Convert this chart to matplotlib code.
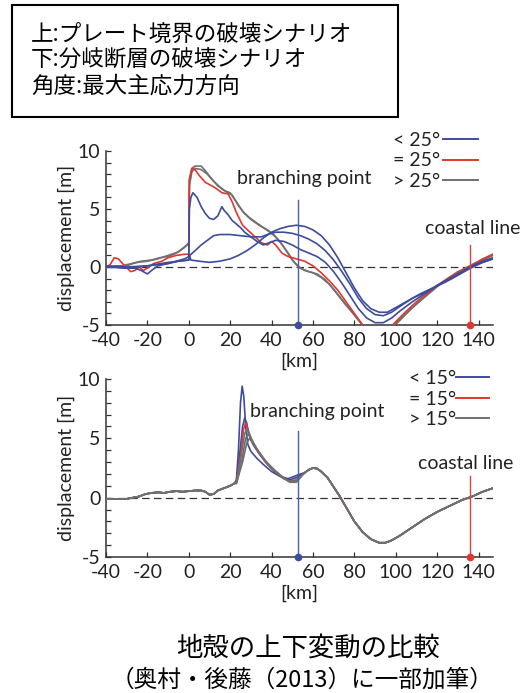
# plot.py
# Vertical crustal displacement: plate-boundary vs. branch-fault rupture scenarios.

import matplotlib
matplotlib.use('Agg')
import matplotlib.pyplot as plt
from matplotlib.lines import Line2D
from matplotlib.patches import Rectangle
from matplotlib.ticker import MultipleLocator

plt.rcParams['font.family'] = ['Lato', 'Noto Sans CJK JP', 'DejaVu Sans']
plt.rcParams['axes.unicode_minus'] = False

BLUE = '#3d4c9c'
RED = '#e2372c'
GRAY = '#707070'
JP = ['Noto Sans CJK JP', 'DejaVu Sans']

# ── DATA ─────────────────────────────────────────────────────────────────────
BOX_LINES = ['上:プレート境界の破壊シナリオ', '下:分岐断層の破壊シナリオ', '角度:最大主応力方向']
CAPTION = ['地殻の上下変動の比較', '（奥村・後藤（2013）に一部加筆）']

X_TICKS = [-40, -20, 0, 20, 40, 60, 80, 100, 120, 140]
Y_TICKS = [-5, 0, 5, 10]
BRANCH_KM = 53
COAST_KM = 136

TOP_LABELS = ['< 25°', '= 25°', '> 25°']
BOTTOM_LABELS = ['< 15°', '= 15°', '> 15°']

# upper panel: plate-boundary rupture, (km, m)
TOP_GRAY_A = [(-40, 0.0), (-35, 0.1), (-30, 0.1), (-27, 0.3), (-23, 0.5), (-18, 0.6), (-14, 0.8),
              (-10, 0.9), (-6, 1.2), (-3, 1.6), (-1, 1.9), (0, 2.1), (0.3, 7.6), (1.5, 8.5), (3, 8.7),
              (6, 8.7), (8, 8.3), (11, 7.6), (14, 7.0), (17, 6.6), (20, 6.4), (23, 5.6), (26, 4.8),
              (29, 4.3), (32, 3.9), (36, 3.4), (40, 2.9), (43, 2.4), (46, 1.7), (50, 0.6), (53, 0.0),
              (56, -0.3), (60, -0.5), (64, -0.9), (68, -1.5), (72, -2.4), (76, -3.3), (80, -4.1),
              (84, -5.0), (88, -5.7), (92, -6.0), (96, -5.6), (99, -5.0), (104, -4.2), (110, -3.2),
              (115, -2.4), (120, -1.6), (125, -1.0), (130, -0.4), (136, 0.1), (142, 0.6), (147, 1.1)]
TOP_GRAY_B = [(-40, 0.0), (-35, 0.0), (-30, 0.2), (-25, 0.4), (-20, 0.5), (-15, 0.7), (-10, 1.0),
              (-5, 1.3), (-2, 1.7), (0, 2.0), (0.3, 7.0), (1.5, 8.2), (3, 8.5), (6, 8.4), (9, 8.0),
              (12, 7.4), (15, 6.9), (18, 6.5), (21, 6.2), (24, 5.3), (27, 4.6), (30, 4.1), (34, 3.6),
              (38, 3.2), (41, 2.8), (44, 2.2), (48, 1.2), (51, 0.4), (54, -0.1), (58, -0.4), (62, -0.6),
              (66, -1.1), (70, -1.9), (74, -2.8), (78, -3.7), (82, -4.6), (86, -5.4), (90, -5.9),
              (94, -5.9), (98, -5.3), (102, -4.6), (108, -3.5), (114, -2.6), (120, -1.7), (126, -0.9),
              (132, -0.3), (137, 0.2), (142, 0.6), (147, 1.0)]
TOP_RED = [(-40, 0.0), (-38, 0.2), (-36, 0.8), (-34, 0.7), (-31, 0.1), (-28, -0.4), (-26, -0.3),
           (-24, 0.0), (-22, -0.3), (-20, -0.1), (-17, 0.3), (-13, 0.5), (-10, 0.8), (-6, 1.0),
           (-2, 1.1), (0, 1.1), (0.3, 7.5), (1.5, 8.5), (3, 8.4), (5, 7.9), (8, 7.3), (10, 7.1),
           (13, 6.8), (16, 6.4), (19, 6.3), (21, 5.6), (23, 4.7), (26, 3.6), (29, 3.1), (32, 2.6),
           (35, 2.1), (38, 1.9), (40, 2.2), (42, 1.9), (45, 1.2), (48, 0.9), (52, 0.7), (56, 0.5),
           (60, 0.1), (64, -0.5), (68, -1.2), (72, -2.0), (76, -3.0), (80, -4.0), (84, -5.0),
           (88, -5.7), (92, -6.0), (96, -5.6), (99, -4.9), (104, -4.0), (110, -3.0), (115, -2.3),
           (120, -1.6), (126, -0.9), (132, -0.3), (137, 0.2), (142, 0.7), (147, 1.1)]
TOP_BLUE_1 = [(-40, 0.0), (-35, 0.0), (-30, -0.1), (-26, -0.1), (-23, -0.3), (-20, -0.6), (-18, -0.3),
              (-15, 0.1), (-10, 0.3), (-6, 0.5), (-2, 0.7), (0, 0.9), (0.3, 5.0), (1, 6.0), (2, 6.4),
              (4, 6.0), (6, 5.2), (8, 4.6), (10, 4.2), (12, 4.1), (14, 4.4), (16, 5.2), (17, 4.9),
              (19, 4.5), (21, 4.0), (23, 3.7), (25, 3.4), (27, 3.0), (30, 2.6), (33, 2.2), (36, 1.9),
              (39, 2.1), (42, 2.3), (46, 2.2), (50, 1.9), (54, 1.5), (58, 1.2), (62, 0.9), (66, 0.4),
              (70, -0.4), (74, -1.4), (78, -2.5), (82, -3.6), (86, -4.4), (90, -4.8), (94, -4.8),
              (98, -4.4), (102, -3.8), (108, -3.0), (114, -2.3), (120, -1.6), (126, -1.0), (132, -0.4),
              (137, 0.1), (142, 0.5), (147, 0.8)]
TOP_BLUE_2 = [(-40, 0.1), (-30, 0.0), (-20, 0.1), (-10, 0.3), (-5, 0.5), (0, 0.6), (0.5, 1.0), (3, 1.4),
              (6, 1.9), (9, 2.3), (12, 2.7), (15, 2.8), (20, 2.8), (25, 2.7), (30, 2.6), (35, 2.6),
              (38, 2.8), (42, 3.0), (46, 3.0), (50, 2.9), (54, 2.7), (58, 2.4), (62, 2.0), (66, 1.4),
              (70, 0.6), (74, -0.4), (78, -1.5), (82, -2.7), (86, -3.6), (90, -4.1), (94, -4.2),
              (98, -3.9), (102, -3.4), (108, -2.7), (114, -2.2), (120, -1.6), (126, -1.1), (132, -0.5),
              (137, 0.0), (142, 0.4), (147, 0.7)]
TOP_BLUE_3 = [(-40, 0.0), (-30, -0.1), (-20, 0.1), (-10, 0.4), (-5, 0.5), (0, 0.6), (0.3, 1.0), (1, 0.6),
              (5, 0.5), (10, 0.4), (15, 0.5), (20, 0.7), (24, 1.0), (28, 1.4), (32, 1.9), (36, 2.5),
              (40, 3.0), (44, 3.3), (48, 3.5), (52, 3.6), (56, 3.5), (60, 3.2), (64, 2.7), (68, 1.9),
              (72, 0.8), (76, -0.5), (80, -1.8), (84, -2.9), (88, -3.6), (92, -3.9), (96, -3.9),
              (100, -3.5), (106, -2.9), (112, -2.3), (118, -1.8), (124, -1.3), (130, -0.7), (136, -0.1),
              (142, 0.4), (147, 0.7)]

# lower panel: branch-fault rupture; curves share both flanks, differ around the peak
BOT_LEFT = [(-40, -0.1), (-35, -0.1), (-30, -0.1), (-27, 0.0), (-24, 0.1), (-21, 0.3), (-18, 0.4),
            (-15, 0.45), (-12, 0.4), (-9, 0.5), (-6, 0.55), (-3, 0.5), (0, 0.55), (3, 0.6), (6, 0.6),
            (8, 0.5), (10, 0.25), (12, 0.3), (14, 0.6), (17, 0.8), (20, 1.0), (22, 1.2)]
BOT_RIGHT = [(56, 2.1), (58, 2.35), (60, 2.5), (62, 2.45), (64, 2.2), (67, 1.7), (70, 0.9), (73, 0.1),
             (76, -0.8), (80, -2.0), (84, -2.9), (88, -3.5), (92, -3.8), (95, -3.8), (98, -3.6),
             (102, -3.2), (108, -2.5), (114, -1.8), (120, -1.2), (126, -0.7), (132, -0.2), (137, 0.1),
             (142, 0.5), (147, 0.8)]
BOT_BLUE_1 = [(23, 1.5), (24, 4.0), (25, 8.0), (25.8, 9.4), (26.6, 8.5), (27.5, 6.0), (28.5, 4.5),
              (30, 3.9), (33, 3.3), (36, 2.8), (40, 2.2), (44, 1.8), (48, 1.6), (51, 1.8), (54, 2.0)]
BOT_BLUE_2 = [(23, 1.4), (24.5, 3.5), (26, 6.0), (27, 6.7), (28, 6.3), (29, 5.3), (31, 4.5), (34, 3.7),
              (38, 2.8), (42, 2.1), (46, 1.6), (49, 1.5), (52, 1.7), (54, 1.9)]
BOT_RED = [(23, 1.3), (25, 3.5), (26.5, 5.8), (27.5, 6.3), (28.5, 5.8), (30, 4.9), (33, 4.0), (37, 3.0),
           (41, 2.3), (45, 1.7), (49, 1.4), (52, 1.5), (54, 1.8)]
BOT_GRAY_1 = [(23, 1.3), (25, 3.2), (27, 5.4), (28.2, 5.8), (29.5, 5.3), (32, 4.3), (36, 3.3), (40, 2.5),
              (44, 1.9), (48, 1.4), (51, 1.4), (54, 1.8)]
BOT_GRAY_2 = [(23, 1.2), (25.5, 3.0), (27.5, 5.0), (28.8, 5.4), (30, 5.0), (33, 4.1), (37, 3.1), (41, 2.4),
              (45, 1.8), (49, 1.3), (52, 1.3), (54, 1.7)]
BOT_GRAY_3 = [(23, 1.2), (26, 3.0), (28, 4.6), (29.3, 5.0), (31, 4.6), (34, 3.8), (38, 2.9), (42, 2.2),
              (46, 1.6), (49, 1.3), (52, 1.4), (54, 1.8)]

TOP_CURVES = [(TOP_GRAY_A, GRAY), (TOP_GRAY_B, GRAY), (TOP_RED, RED),
              (TOP_BLUE_1, BLUE), (TOP_BLUE_2, BLUE), (TOP_BLUE_3, BLUE)]
BOT_CURVES = [(BOT_BLUE_1, BLUE), (BOT_BLUE_2, BLUE), (BOT_RED, RED),
              (BOT_GRAY_1, GRAY), (BOT_GRAY_2, GRAY), (BOT_GRAY_3, GRAY)]


# ── HELPERS ──────────────────────────────────────────────────────────────────
def style_axes(ax):
    ax.set_xlim(-40, 147)
    ax.set_ylim(-5, 10)
    ax.set_xticks(X_TICKS)
    ax.set_yticks(Y_TICKS)
    ax.yaxis.set_minor_locator(MultipleLocator(1))
    ax.spines['top'].set_visible(False)
    ax.spines['right'].set_visible(False)
    for s in ('left', 'bottom'):
        ax.spines[s].set_color('#333333')
        ax.spines[s].set_linewidth(1.1)
    ax.tick_params(which='both', direction='in', length=3.5, width=0.9, color='#333333',
                   labelsize=14, labelcolor='#222222')
    ax.tick_params(axis='x', pad=5)
    ax.tick_params(axis='y', pad=4)
    ax.axhline(0, color='#333333', lw=0.9, dashes=(6, 3.5), zorder=1)
    ax.set_ylabel('displacement [m]', fontsize=14, color='#222222', labelpad=2)
    ax.set_xlabel('[km]', fontsize=14, color='#222222', labelpad=3)


def marker_lines(ax, branch_top, coast_top):
    ax.plot([BRANCH_KM, BRANCH_KM], [branch_top, -5], color='#4a5db0', lw=1.0, zorder=4)
    ax.plot([COAST_KM, COAST_KM], [coast_top, -5], color='#d9453a', lw=1.0, zorder=4)
    ax.plot([BRANCH_KM], [-5], 'o', color='#3d4c9c', ms=4.5, clip_on=False, zorder=6)
    ax.plot([COAST_KM], [-5], 'o', color='#e2372c', ms=4.5, clip_on=False, zorder=6)


def add_legend(ax, labels, anchor, hlen, tpad):
    handles = [Line2D([], [], color=c, lw=1.4) for c in (BLUE, RED, GRAY)]
    ax.legend(handles, labels, loc='upper right', bbox_to_anchor=anchor, frameon=False,
              markerfirst=False, fontsize=14, handlelength=hlen, handletextpad=tpad,
              labelspacing=0.18, borderpad=0, borderaxespad=0, labelcolor='#222222')


# ── FIGURE ───────────────────────────────────────────────────────────────────
fig = plt.figure(figsize=(5.31, 6.93), dpi=100)

# note box
fig.add_artist(Rectangle((12 / 531, 1 - 117 / 693), 386 / 531, 112 / 693,
                         transform=fig.transFigure, fill=False, lw=1.5, ec='black'))
for i, line in enumerate(BOX_LINES):
    fig.text(31 / 531, 1 - (34 + 26 * i) / 693, line, family=JP, fontsize=16.2,
             ha='left', va='center', color='black')

# upper panel
ax1 = fig.add_axes([106 / 531, 1 - 325 / 693, 387 / 531, 174 / 693])
for pts, col in TOP_CURVES:
    ax1.plot([p[0] for p in pts], [p[1] for p in pts], color=col, lw=1.2, zorder=3)
style_axes(ax1)
marker_lines(ax1, 5.8, 1.9)
ax1.text(56, 7.6, 'branching point', fontsize=14, ha='center', va='center', color='#222222')
ax1.text(137, 3.3, 'coastal line', fontsize=14, ha='center', va='center', color='#222222')
add_legend(ax1, TOP_LABELS, (0.96, 1.11), 1.8, 0.1)

# lower panel
ax2 = fig.add_axes([106 / 531, 1 - 557 / 693, 387 / 531, 178 / 693])
for pts, col in BOT_CURVES:
    full = BOT_LEFT + pts + BOT_RIGHT
    ax2.plot([p[0] for p in full], [p[1] for p in full], color=col, lw=1.2, zorder=3)
style_axes(ax2)
marker_lines(ax2, 5.6, 1.85)
ax2.text(62, 7.3, 'branching point', fontsize=14, ha='center', va='center', color='#222222')
ax2.text(134, 2.85, 'coastal line', fontsize=14, ha='center', va='center', color='#222222')
add_legend(ax2, BOTTOM_LABELS, (0.99, 1.05), 1.7, 0.0)

# caption
fig.text(308 / 531, 1 - 648 / 693, CAPTION[0], family=JP, fontsize=19, ha='center', va='center')
fig.text(302 / 531, 1 - 680 / 693, CAPTION[1], family=JP, fontsize=17, ha='center', va='center')

fig.savefig('out.png', dpi=100)
plt.close(fig)
